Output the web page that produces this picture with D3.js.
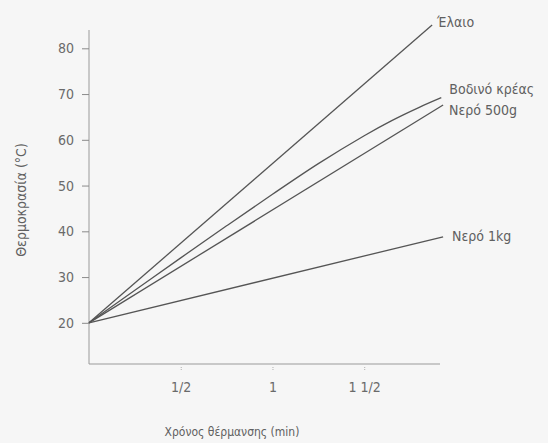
<!DOCTYPE html>
<html>
<head>
<meta charset="utf-8">
<script src="https://cdn.jsdelivr.net/npm/d3@7"></script>
<style>
  html, body { margin: 0; padding: 0; background: #f6f6f6; }
  svg { display: block; }
  text { font-family: "DejaVu Sans Condensed", "DejaVu Sans", sans-serif; font-stretch: condensed; fill: #606060; }
</style>
</head>
<body>
<svg id="chart" width="548" height="443"></svg>
<script>
// Heating curves: temperature (°C) vs heating time (min)
const seriesNames = ["Έλαιο", "Βοδινό κρέας", "Νερό 500g", "Νερό 1kg"];

const oilTimes = [0, 1.87];
const oilTemps = [20, 85.1];

const beefTimes = [0, 0.25, 0.5, 0.75, 1.0, 1.25, 1.5, 1.65, 1.8, 1.92];
const beefTemps = [20, 27.1, 34.2, 41.2, 48.1, 54.8, 60.9, 64.2, 67.1, 69.2];

const water500Times = [0, 1.93];
const water500Temps = [20, 67.6];

const water1kgTimes = [0, 1.93];
const water1kgTemps = [20, 38.8];

const yTickValues = [20, 30, 40, 50, 60, 70, 80];
const xTickValues = [0.5, 1, 1.5];
const xTickLabels = ["1/2", "1", "1 1/2"];

const xTitle = "Χρόνος θέρμανσης (min)";
const yTitle = "Θερμοκρασία (°C)";

const svg = d3.select("#chart");
const margin = { left: 89, top: 30, right: 108, bottom: 79 };
const W = 548, H = 443;

const x = d3.scaleLinear().domain([0, 1.913]).range([margin.left, W - margin.right]);
const y = d3.scaleLinear().domain([11, 84]).range([H - margin.bottom, margin.top]);

// Y axis
const yAxis = svg.append("g")
  .attr("transform", `translate(${margin.left},0)`)
  .call(d3.axisLeft(y).tickValues(yTickValues).tickSize(7).tickPadding(8).tickFormat(d3.format("d")));
yAxis.select(".domain").attr("stroke", "#9a9a9a").attr("d", `M0,${y.range()[0]}V${y.range()[1]}`);
yAxis.selectAll(".tick line").attr("stroke", "#8a8a8a");
yAxis.selectAll(".tick text").attr("font-size", 14).style("fill", "#6a6a6a");

// X axis
const xAxis = svg.append("g")
  .attr("transform", `translate(0,${H - margin.bottom})`)
  .call(d3.axisBottom(x).tickValues(xTickValues).tickSize(6).tickPadding(12)
    .tickFormat((d, i) => xTickLabels[i]));
xAxis.select(".domain").attr("stroke", "#9a9a9a").attr("d", `M${x.range()[0]},0H${x.range()[1]}`);
xAxis.selectAll(".tick line").attr("stroke", "#b0b0b0").attr("y1", 3).attr("stroke-dasharray", "1,1");
xAxis.selectAll(".tick text").attr("font-size", 14).style("fill", "#6a6a6a");

// Axis titles
svg.append("text")
  .attr("x", 232).attr("y", 436)
  .attr("text-anchor", "middle")
  .attr("font-size", 12)
  .text(xTitle);

svg.append("text")
  .attr("transform", `translate(26,${200}) rotate(-90)`)
  .attr("text-anchor", "middle")
  .attr("font-size", 14)
  .text(yTitle);

// Curves
const series = [
  { name: seriesNames[0], t: oilTimes, v: oilTemps, dx: 5, dy: -3 },
  { name: seriesNames[1], t: beefTimes, v: beefTemps, dx: 8, dy: -9 },
  { name: seriesNames[2], t: water500Times, v: water500Temps, dx: 6, dy: 5 },
  { name: seriesNames[3], t: water1kgTimes, v: water1kgTemps, dx: 9, dy: -1 }
];

const line = d3.line()
  .x(d => x(d[0]))
  .y(d => y(d[1]))
  .curve(d3.curveCatmullRom);

series.forEach(s => {
  const pts = s.t.map((t, i) => [t, s.v[i]]);
  svg.append("path")
    .datum(pts)
    .attr("d", line)
    .attr("fill", "none")
    .attr("stroke", "#555")
    .attr("stroke-width", 1.3);

  const last = pts[pts.length - 1];
  svg.append("text")
    .attr("x", x(last[0]) + s.dx)
    .attr("y", y(last[1]) + s.dy)
    .attr("dy", "0.35em")
    .attr("font-size", 14)
    .text(s.name);
});
</script>
</body>
</html>
